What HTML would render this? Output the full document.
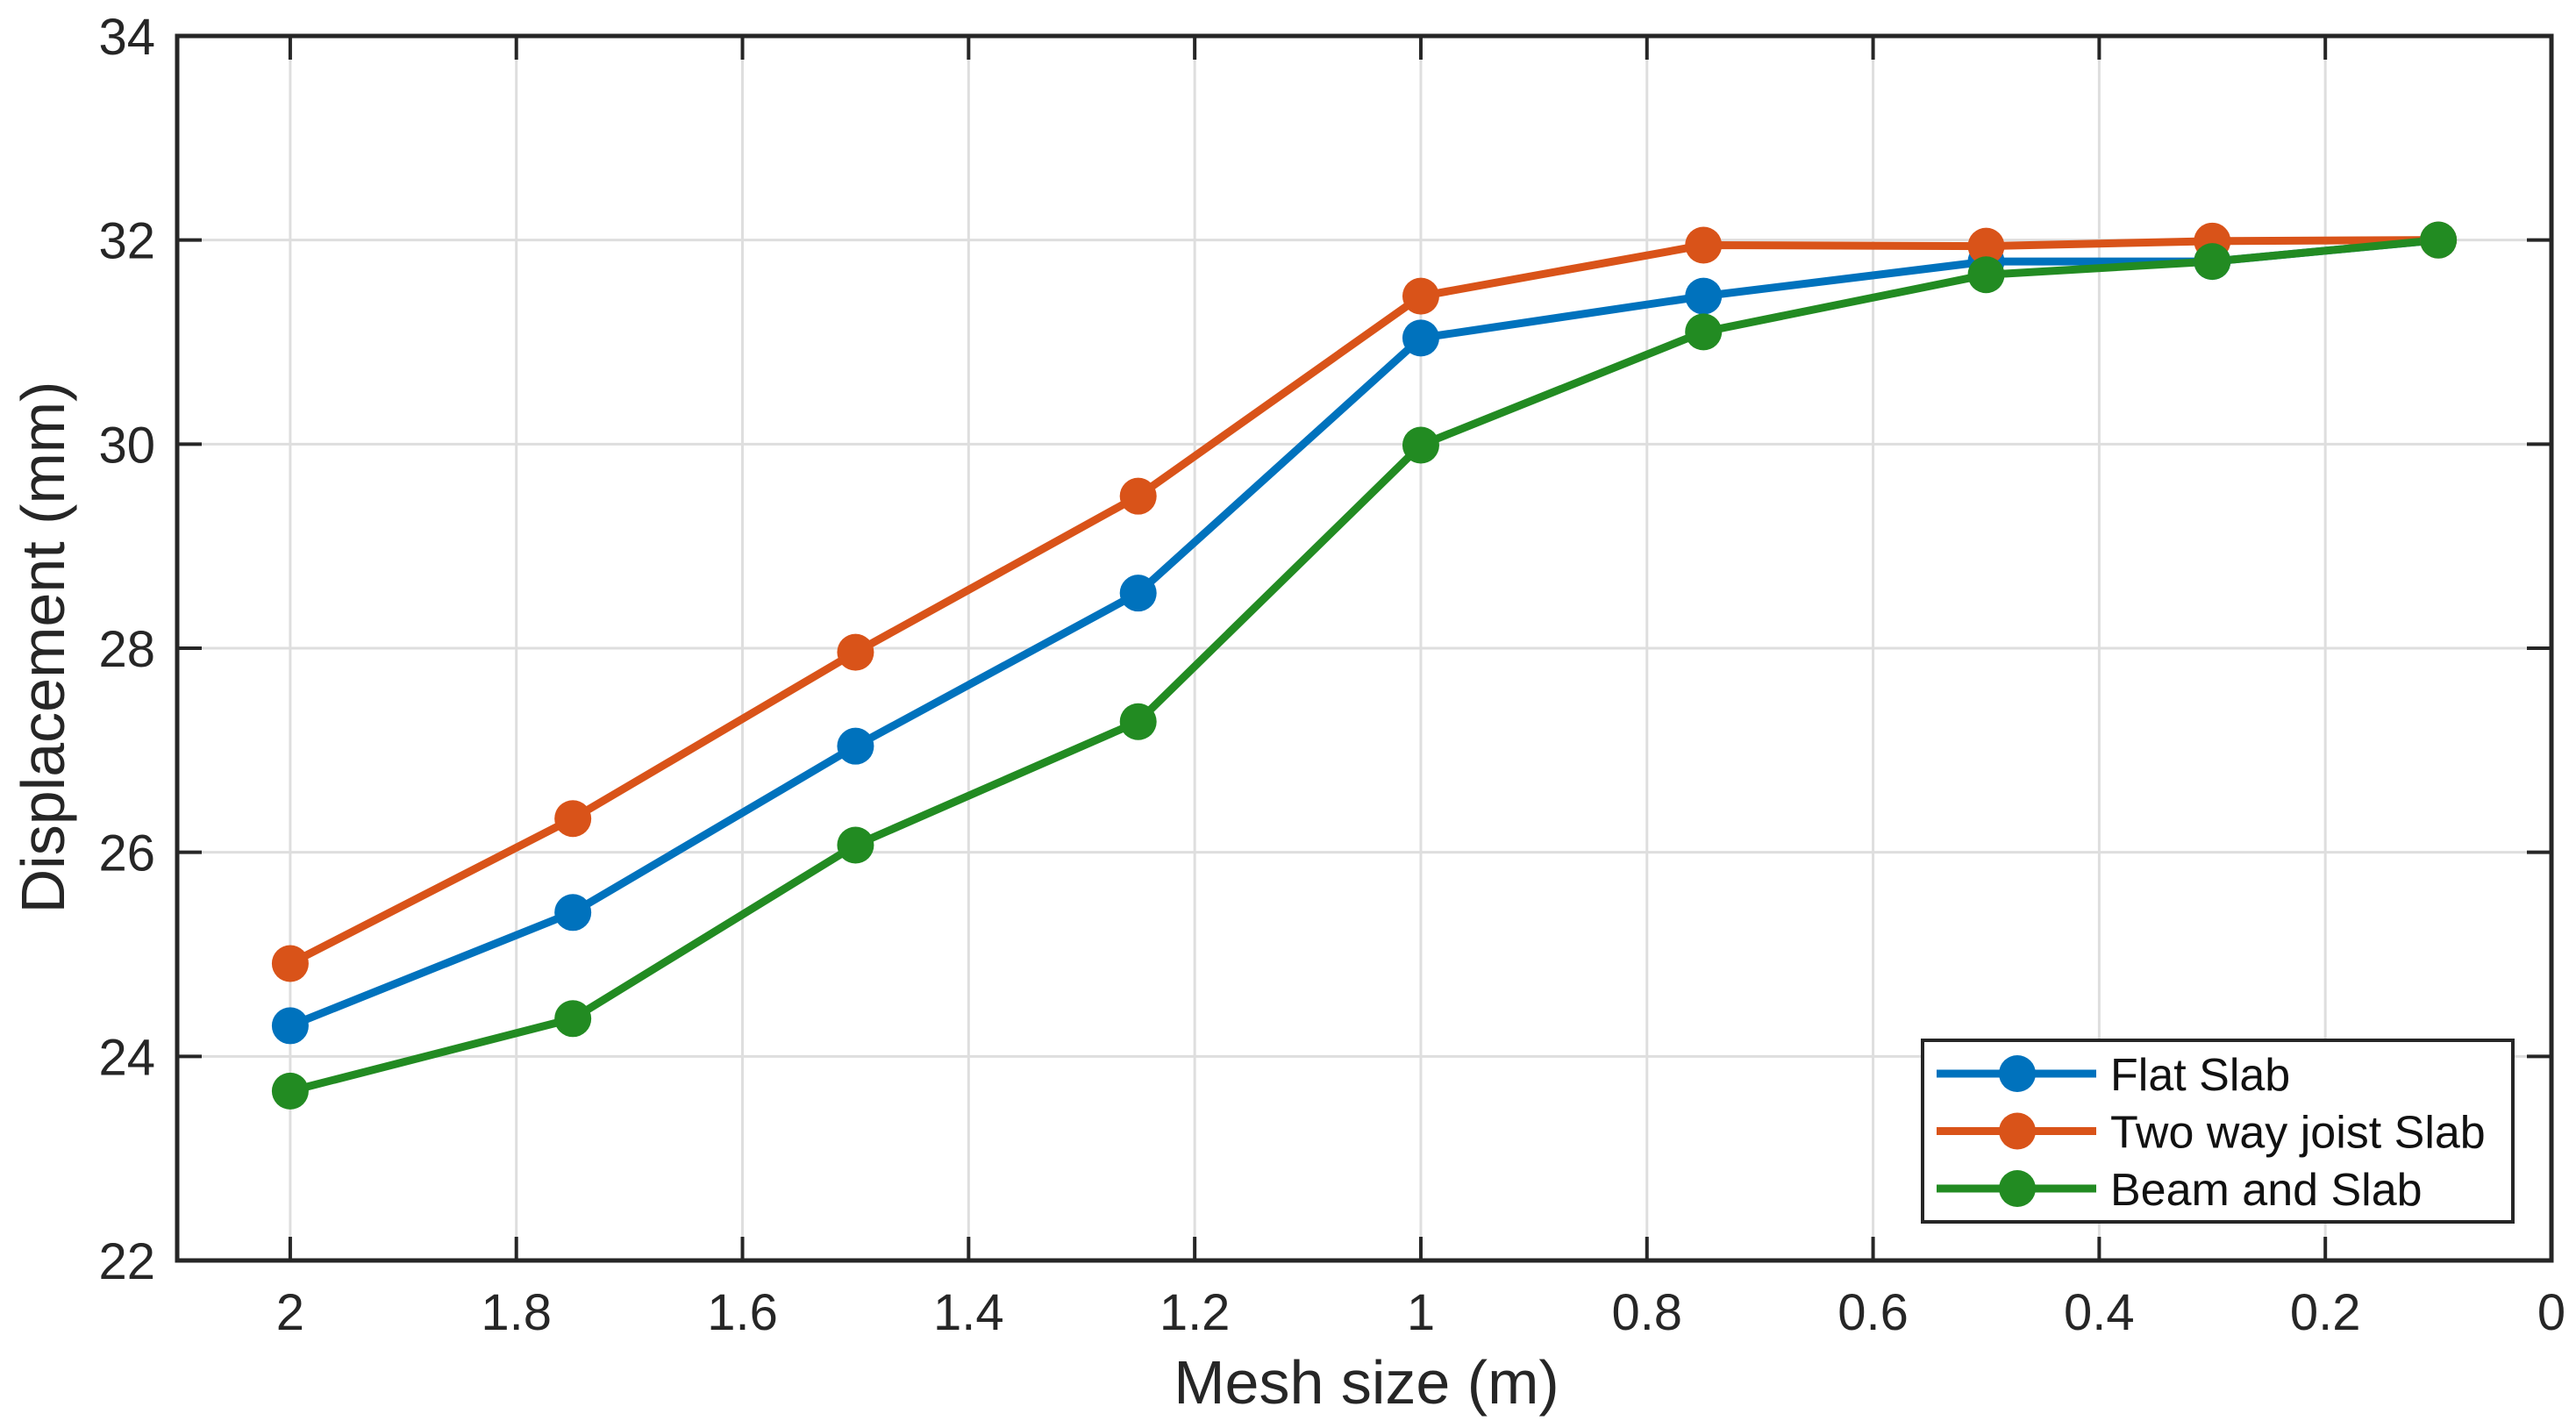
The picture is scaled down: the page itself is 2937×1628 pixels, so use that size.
<!DOCTYPE html>
<html><head><meta charset="utf-8"><style>
html,body{margin:0;padding:0;background:#fff;}
svg{display:block;font-family:"Liberation Sans",Arial,sans-serif;}
</style></head><body>
<svg id="chart" width="2937" height="1628" viewBox="0 0 2937 1628" xmlns="http://www.w3.org/2000/svg">
<g id="grid"></g>
<g id="series"></g>
<rect x="202" y="41" width="2707" height="1396" fill="none" stroke="#262626" stroke-width="5"/>
<g id="ticks"></g>
<text x="1558" y="1600" font-size="70" text-anchor="middle" fill="#262626">Mesh size (m)</text>
<text transform="translate(73,738) rotate(-90)" font-size="70" text-anchor="middle" fill="#262626">Displacement (mm)</text>
<g>
<rect x="2192" y="1186" width="673" height="207" fill="#fff" stroke="#262626" stroke-width="4"/>
<g id="legend-items"></g>
</g>
</svg>
<script>
const xValues=[2,1.75,1.5,1.25,1,0.75,0.5,0.3,0.1];
const flatSlab=[24.30,25.41,27.04,28.54,31.04,31.45,31.79,31.79,32.0];
const twoWayJoist=[24.91,26.33,27.96,29.49,31.45,31.95,31.94,31.99,32.0];
const beamSlab=[23.66,24.37,26.07,27.28,29.99,31.10,31.66,31.79,32.0];
const seriesNames=["Flat Slab","Two way joist Slab","Beam and Slab"];
const xTicks=[2,1.8,1.6,1.4,1.2,1,0.8,0.6,0.4,0.2,0];
const yTicks=[22,24,26,28,30,32,34];
const colors=["#0072BD","#D95319","#228B22"];
const L=202,R=2909,T=41,B=1437,XMIN=0,XMAX=2.1,YMIN=22,YMAX=34;
const NS="http://www.w3.org/2000/svg";
function sx(v){return R-(v-XMIN)/(XMAX-XMIN)*(R-L);}
function sy(v){return B-(v-YMIN)/(YMAX-YMIN)*(B-T);}
function mk(tag,attrs,parent){const e=document.createElementNS(NS,tag);for(const k in attrs)e.setAttribute(k,attrs[k]);parent.appendChild(e);return e;}
const grid=document.getElementById('grid'),ticks=document.getElementById('ticks'),ser=document.getElementById('series');
xTicks.forEach(t=>{
 const x=sx(t);
 const g=mk('line',{x1:x,x2:x,y1:T,y2:B,stroke:'#dedede','stroke-width':3},grid);
 
 
 const a=mk('line',{x1:x,x2:x,y1:B,y2:B-27,stroke:'#262626','stroke-width':4},ticks);
 
 
 const b=mk('line',{x1:x,x2:x,y1:T,y2:T+27,stroke:'#262626','stroke-width':4},ticks);
 
 
 const l=mk('text',{x:x,y:1516,'font-size':58,'text-anchor':'middle',fill:'#262626'},ticks);
 l.textContent=String(t);
 
 
});
yTicks.forEach(t=>{
 const y=sy(t);
 const g=mk('line',{x1:L,x2:R,y1:y,y2:y,stroke:'#dedede','stroke-width':3},grid);
 
 
 const a=mk('line',{x1:L,x2:L+28,y1:y,y2:y,stroke:'#262626','stroke-width':4},ticks);
 
 
 const b=mk('line',{x1:R,x2:R-28,y1:y,y2:y,stroke:'#262626','stroke-width':4},ticks);
 
 
 const l=mk('text',{x:177,y:y+21,'font-size':58,'text-anchor':'end',fill:'#262626'},ticks);
 l.textContent=String(t);
 
 
});
const data=[flatSlab,twoWayJoist,beamSlab];
data.forEach((vals,i)=>{
 const pts=vals.map((v,j)=>sx(xValues[j])+','+sy(v)).join(' ');
 const pl=mk('polyline',{points:pts,fill:'none',stroke:colors[i],'stroke-width':9,'stroke-linejoin':'round'},ser);
 
 
});
data.forEach((vals,i)=>{
 vals.forEach((v,j)=>{
  const c=mk('ellipse',{cx:sx(xValues[j]),cy:sy(v),rx:21,ry:21,fill:colors[i]},ser);
  
  
 });
});
const leg=document.getElementById('legend-items');
seriesNames.forEach((n,i)=>{
 const y=1224+i*65.5;
 const ln=mk('line',{x1:2208,x2:2390,y1:y,y2:y,stroke:colors[i],'stroke-width':9},leg);
 
 
 const c=mk('circle',{cx:2300,cy:y,r:21,fill:colors[i]},leg);
 
 
 const t=mk('text',{x:2406,y:y+19,'font-size':52,fill:'#111'},leg);
 t.textContent=n;
 
 
});
</script>
</body></html>
